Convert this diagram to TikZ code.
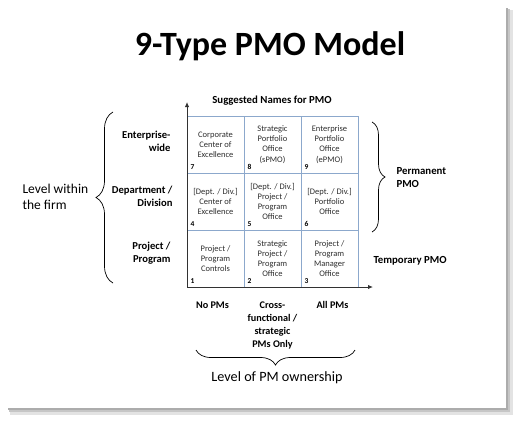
\documentclass[tikz,border=0pt]{standalone}
\usepackage{fontspec}
\setmainfont{Carlito}
\usepackage{xcolor}
\usetikzlibrary{arrows.meta,positioning,decorations.pathreplacing}
\definecolor{cellblue}{RGB}{140,168,204}
\definecolor{axisgray}{RGB}{50,50,50}
\definecolor{txtgray}{RGB}{45,45,45}

\begin{document}
\begin{tikzpicture}[x=1pt, y=-1pt,
  cell/.style={draw=cellblue, line width=0.8pt, minimum width=57pt, minimum height=57pt, outer sep=0pt, inner sep=1pt, align=center, text=txtgray, font=\fontsize{8.5}{10.2}\selectfont},
  num/.style={anchor=south west, inner sep=3.5pt, font=\fontsize{7.5}{8}\selectfont\bfseries},
  lvl/.style={align=right, font=\fontsize{10.6}{13}\selectfont\bfseries},
  own/.style={align=center, anchor=north, font=\fontsize{10.2}{13}\selectfont\bfseries},
  big/.style={font=\fontsize{13.5}{15.5}\selectfont},
  axis/.style={draw=axisgray, line width=1pt, -{Latex[length=5pt,width=4.5pt]}},
  brc/.style={decorate, decoration={brace, amplitude=#1}, line width=0.7pt},
  brc/.default=15]
\useasboundingbox (0,0) rectangle (521,423);
% slide shadow
\fill[gray!65] (506,8) rectangle (508,410);
\fill[gray!45] (508,9) rectangle (510,412);
\fill[gray!22] (510,10) rectangle (512.5,414.5);
\fill[gray!65] (8,408) rectangle (508,410);
\fill[gray!45] (9,410) rectangle (510,412);
\fill[gray!22] (10,412) rectangle (512.5,414.5);

\node[font=\fontsize{34}{38}\selectfont\bfseries] (title) at (270,46) {9-Type PMO Model};

% the 3x3 grid
\node[cell] (c7) at (215.5,144.5) {Corporate\\Center of\\Excellence};
\node[cell, right=0pt of c7] (c8) {Strategic\\Portfolio\\Office\\(sPMO)};
\node[cell, right=0pt of c8] (c9) {Enterprise\\Portfolio\\Office\\(ePMO)};
\node[cell, below=0pt of c7] (c4) {[Dept. / Div.]\\Center of\\Excellence};
\node[cell, right=0pt of c4] (c5) {[Dept. / Div.]\\Project /\\Program\\Office};
\node[cell, right=0pt of c5] (c6) {[Dept. / Div.]\\Portfolio\\Office};
\node[cell, below=0pt of c4] (c1) {Project /\\Program\\Controls};
\node[cell, right=0pt of c1] (c2) {Strategic\\Project /\\Program\\Office};
\node[cell, right=0pt of c2] (c3) {Project /\\Program\\Manager\\Office};
\node[num] (n7) at (c7.south west) {7};
\node[num] (n8) at (c8.south west) {8};
\node[num] (n9) at (c9.south west) {9};
\node[num] (n4) at (c4.south west) {4};
\node[num] (n5) at (c5.south west) {5};
\node[num] (n6) at (c6.south west) {6};
\node[num] (n1) at (c1.south west) {1};
\node[num] (n2) at (c2.south west) {2};
\node[num] (n3) at (c3.south west) {3};

% axes
\coordinate (o) at (c1.south west);
\coordinate (ytip) at (187,102);
\coordinate (xtip) at (373,287);
\draw[axis] (o) -- (ytip);
\draw[axis] (o) -- (xtip);
\node[font=\fontsize{10.8}{12}\selectfont\bfseries] (sugg) at (272,101) {Suggested Names for PMO};

% vertical axis labels
\node[lvl, left=13pt of c7, yshift=3pt] (ent) {Enterprise-\\wide};
\node[lvl, left=11pt of c4, yshift=5.5pt] (dept) {Department /\\Division};
\node[lvl, left=13pt of c1, yshift=5.5pt] (proj) {Project /\\Program};
\coordinate (lb1) at (113,283);
\coordinate (lb2) at (113,112);
\draw[brc=17] (lb1) -- (lb2);
\node[big, align=left, anchor=west] (firm) at (19,197) {Level within\\the firm};

\coordinate (rb1) at (372,122);
\coordinate (rb2) at (372,232);
\draw[brc=13] (rb1) -- (rb2);
\node[lvl, align=left, anchor=west, font=\fontsize{10.8}{13}\selectfont\bfseries] (perm) at (393,178) {Permanent\\PMO};
\node[lvl, right=12pt of c3, yshift=-2pt, font=\fontsize{10.8}{13}\selectfont\bfseries] (temp) {Temporary PMO};

% horizontal axis labels
\node[own, below=11pt of c1, xshift=-3pt] (nopm) {No PMs};
\node[own, below=11pt of c2] (cross) {Cross-\\functional /\\strategic\\PMs Only};
\node[own, below=11pt of c3, xshift=3pt] (allpm) {All PMs};
\coordinate (bb1) at (355,350);
\coordinate (bb2) at (196,350);
\draw[brc=15] (bb1) -- (bb2);
\node[big, font=\fontsize{14.2}{16}\selectfont] (ownlvl) at (277,378) {Level of PM ownership};
\end{tikzpicture}
\end{document}
